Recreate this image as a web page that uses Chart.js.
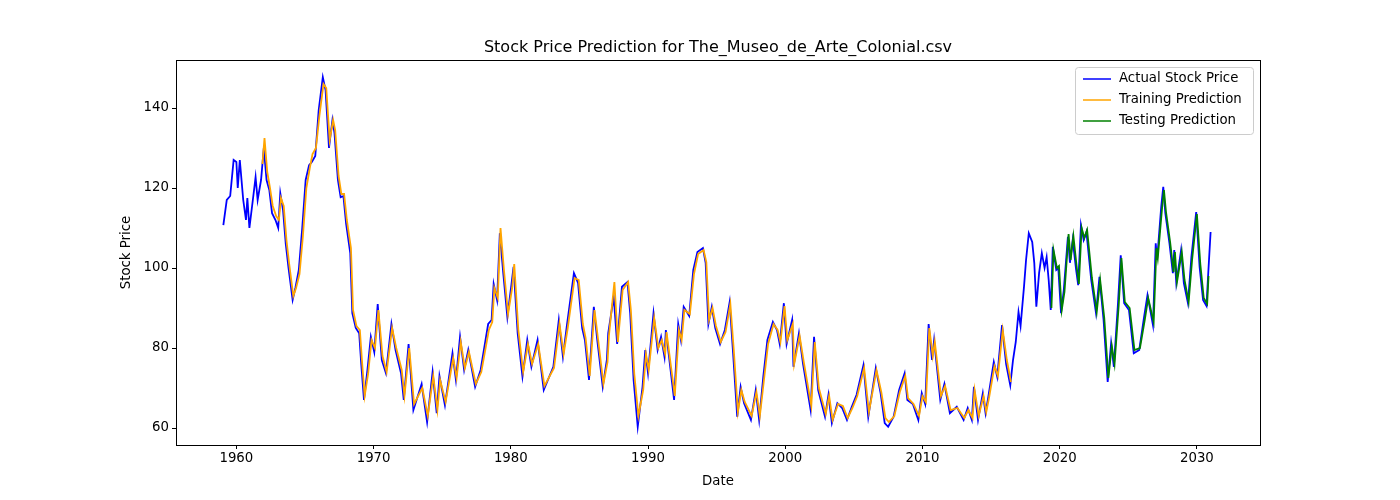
<!DOCTYPE html>
<html><head><meta charset="utf-8">
<script src="https://cdn.jsdelivr.net/npm/chart.js@4/dist/chart.umd.min.js"></script>
<style>html,body{margin:0;padding:0;background:#fff}#wrap{width:1400px;height:500px}</style>
</head><body><div id="wrap"><canvas id="c" width="1400" height="500"></canvas></div>
<script>
const actualYears=[1959.05,1959.3,1959.55,1959.8,1960.0,1960.1,1960.25,1960.5,1960.7,1960.8,1960.95,1961.2,1961.4,1961.55,1961.8,1962.0,1962.2,1962.4,1962.6,1962.85,1963.05,1963.2,1963.4,1963.6,1963.8,1964.1,1964.3,1964.55,1964.8,1965.05,1965.3,1965.5,1965.75,1966.0,1966.3,1966.5,1966.75,1967.0,1967.15,1967.4,1967.6,1967.8,1968.0,1968.3,1968.45,1968.7,1968.95,1969.1,1969.3,1969.55,1969.8,1970.05,1970.3,1970.6,1970.9,1971.3,1971.6,1972.0,1972.2,1972.55,1972.9,1973.5,1973.9,1974.3,1974.6,1974.8,1975.2,1975.75,1976.0,1976.3,1976.6,1976.9,1977.4,1977.8,1978.35,1978.6,1978.75,1979.0,1979.2,1979.45,1979.75,1980.05,1980.2,1980.5,1980.85,1981.2,1981.5,1981.95,1982.4,1983.1,1983.5,1983.8,1984.1,1984.6,1984.9,1985.2,1985.4,1985.7,1986.05,1986.3,1986.7,1987.0,1987.1,1987.5,1987.75,1988.1,1988.5,1988.7,1988.95,1989.25,1989.6,1989.8,1990.0,1990.4,1990.7,1990.95,1991.2,1991.3,1991.9,1992.2,1992.4,1992.6,1993.0,1993.3,1993.6,1994.0,1994.2,1994.4,1994.65,1994.9,1995.25,1995.6,1995.95,1996.2,1996.5,1996.75,1997.0,1997.5,1997.85,1998.1,1998.4,1998.7,1999.1,1999.4,1999.6,1999.9,2000.1,2000.5,2000.6,2001.0,2001.3,2001.85,2002.1,2002.4,2002.9,2003.15,2003.4,2003.8,2004.15,2004.5,2004.85,2005.2,2005.7,2006.05,2006.6,2006.95,2007.25,2007.5,2007.9,2008.3,2008.7,2008.9,2009.3,2009.7,2009.95,2010.2,2010.45,2010.7,2010.85,2011.3,2011.6,2012.0,2012.5,2013.0,2013.3,2013.6,2013.75,2014.05,2014.4,2014.6,2014.8,2015.2,2015.45,2015.8,2016.1,2016.4,2016.6,2016.8,2017.0,2017.15,2017.4,2017.55,2017.75,2018.0,2018.15,2018.3,2018.5,2018.7,2018.9,2019.05,2019.2,2019.35,2019.5,2019.75,2019.9,2020.1,2020.3,2020.6,2020.75,2020.95,2021.2,2021.35,2021.55,2021.75,2021.95,2022.3,2022.65,2022.9,2023.2,2023.5,2023.75,2023.95,2024.25,2024.45,2024.7,2025.05,2025.4,2025.8,2026.15,2026.4,2026.8,2027.0,2027.1,2027.4,2027.55,2027.7,2028.0,2028.25,2028.35,2028.5,2028.85,2029.05,2029.35,2029.6,2029.95,2030.2,2030.45,2030.7,2030.8,2031.0];
const actualValues=[110.7,117,118,127,126.5,120,127,117,112,117.5,110,117,122.7,117,122,130,122,119.5,113.7,112,110,118.7,114.5,106,100,92,95,99.5,110,122,125.7,126.5,128,139.5,147.7,144.5,130,137,133.7,122,117.7,118,111,103.7,88.7,85,83.7,76,67,74.5,82.8,79,91,77,73.7,86,79.5,73.7,67,81,64.5,71,61.5,74,63.7,73,65.7,78.7,72,82.8,74.5,79.5,70.3,74.5,86,87,96,92,108.7,98.7,87.7,96,100.3,83.7,72.8,82,75.3,82,69.5,75.3,87,77.8,86,98.7,96.3,85,82,72,90.3,82,70.3,77,83.7,92.8,81,95.3,96.5,88.7,72,60.3,70.3,79.5,73.7,88.7,79.5,82.8,77.8,84.5,67,86,82,90.3,88,99.5,104,105,101.3,86,90.3,85,81,84.5,91.5,78.7,62.8,70.3,66.2,62,69.5,62,72.8,82,86.5,84.5,81,91.2,81,87,75.3,83.7,76,64.5,82.8,69.5,62.8,68.3,61.2,66.2,65,62,65.3,68.3,75.7,62.8,75,68.7,61.2,60.3,62.8,69.5,73.7,67,66,62,68.7,66,86,77,82,67,71,63.7,65.3,62,65,62,70.3,62,68.7,63.7,67.8,76.5,72.8,85.7,76,70.7,77,81.5,89,85.5,95.3,102,108.7,106.5,101.3,90.3,98.7,103.7,100,102.7,97,89.5,105.3,99.5,100,88.7,94.5,107.8,101.3,107,99.5,95.7,110.7,107,109,97,88.7,97.8,87,71.5,81.2,75.3,91.2,103.2,91.2,89.5,78.7,79.5,87.7,93.2,85.7,106.2,102,115.3,120.3,113.7,106.2,98.7,104.5,96.2,104.5,96.2,91.2,102.7,114,100.2,92,90.5,97,109];
const trainYears=[1961.9,1962.05,1962.25,1962.45,1962.65,1962.9,1963.1,1963.25,1963.45,1963.65,1963.85,1964.15,1964.35,1964.6,1964.85,1965.1,1965.35,1965.55,1965.8,1966.05,1966.35,1966.55,1966.8,1967.05,1967.2,1967.45,1967.65,1967.85,1968.05,1968.35,1968.5,1968.75,1969.0,1969.15,1969.35,1969.6,1969.85,1970.1,1970.35,1970.65,1970.95,1971.35,1971.65,1972.05,1972.25,1972.6,1972.95,1973.55,1973.95,1974.35,1974.65,1974.85,1975.25,1975.8,1976.05,1976.35,1976.65,1976.95,1977.45,1977.85,1978.4,1978.65,1978.8,1979.05,1979.25,1979.5,1979.8,1980.1,1980.25,1980.55,1980.9,1981.25,1981.55,1982.0,1982.45,1983.15,1983.55,1983.85,1984.15,1984.65,1984.95,1985.25,1985.45,1985.75,1986.1,1986.35,1986.75,1987.05,1987.15,1987.55,1987.8,1988.15,1988.55,1988.75,1989.0,1989.3,1989.65,1989.85,1990.05,1990.45,1990.75,1991.0,1991.25,1991.35,1991.95,1992.25,1992.45,1992.65,1993.05,1993.35,1993.65,1994.05,1994.25,1994.45,1994.7,1994.95,1995.3,1995.65,1996.0,1996.25,1996.55,1996.8,1997.05,1997.55,1997.9,1998.15,1998.45,1998.75,1999.15,1999.45,1999.65,1999.95,2000.15,2000.55,2000.65,2001.05,2001.35,2001.9,2002.15,2002.45,2002.95,2003.2,2003.45,2003.85,2004.2,2004.55,2004.9,2005.25,2005.75,2006.1,2006.65,2007.0,2007.3,2007.55,2007.95,2008.35,2008.75,2008.95,2009.35,2009.75,2010.0,2010.25,2010.5,2010.75,2010.9,2011.35,2011.65,2012.05,2012.55,2013.05,2013.35,2013.65,2013.8,2014.1,2014.45,2014.65,2014.85,2015.25,2015.5,2015.85,2016.15,2016.45];
const trainValues=[126,132.5,124,120,115.5,113,112,117.5,115.5,107,101,93,95,98.5,108,120,125,128.5,130,138,146,145,132,137,134.5,123,118.5,118.5,112,105,89.5,85.5,84.5,77,68,73.5,82,80,89.5,78,74,85,80,74.5,68,80,66,70,63,73,64.5,72,66.5,77.5,72.5,81.5,75,79,71,74,84.5,86.5,95,92.5,110,99.5,88.5,95,101,84.5,74,81,76,81,70.5,75,86,78.5,85,97.5,97,86,82.5,73,89.5,82.5,71,76.5,83,96.5,81.5,94.5,96.5,89.5,73.5,63,69.5,78.5,74.5,87.5,80,82,78.5,84,68,84.5,82,89.5,88.5,98.5,103.5,104.5,101.5,87,90,85.5,81.5,84,91,79.5,64,69.5,66.5,63,69,63,72,81,86,84.5,81.5,90.5,82,86,76,83,76.5,65.5,81.5,70,63.5,68,62,66,65.5,62.5,65,68,75,64,74.5,69,62.5,61.5,63,69,73,67.5,66,63,68,66.5,85,78,81.5,68,70.5,64.5,65,62.5,64.5,62.5,69.5,63,68,64,67.5,75.5,73,84.5,77,71.5];
const testYears=[2019.4,2019.55,2019.8,2019.95,2020.15,2020.35,2020.65,2020.8,2021.0,2021.25,2021.4,2021.6,2021.8,2022.0,2022.35,2022.7,2022.95,2023.25,2023.55,2023.8,2024.0,2024.3,2024.5,2024.75,2025.1,2025.45,2025.85,2026.2,2026.45,2026.85,2027.05,2027.15,2027.45,2027.6,2027.75,2028.05,2028.3,2028.4,2028.55,2028.9,2029.1,2029.4,2029.65,2030.0,2030.25,2030.5,2030.75,2030.85];
const testValues=[90,104.5,100,100.5,89.5,94,108.5,102,108,100,96,110,107.5,109.5,97.5,89,97,87.5,72.5,80.5,76,90.5,102.5,91.5,90,79.5,80,87,92.5,86.5,105,102.5,114.5,119.5,114,106.5,99,104,96.5,104,97,91.5,102,113.5,101,92.5,91,98];
const xTicks=[1960,1970,1980,1990,2000,2010,2020,2030];
const yTicks=[60,80,100,120,140];
const legendItems=[['Actual Stock Price','blue'],['Training Prediction','orange'],['Testing Prediction','green']];
const toPts=(xs,ys)=>xs.map((x,i)=>({x,y:ys[i]}));
const F='"DejaVu Sans", sans-serif';
const deco={id:'deco',afterDraw(ch){const c=ch.ctx,a=ch.chartArea;c.save();
c.strokeStyle='#000';c.lineWidth=1;c.strokeRect(Math.round(a.left)+0.5,Math.round(a.top)+0.5,Math.round(a.right-a.left),Math.round(a.bottom-a.top));
c.fillStyle='#000';c.textAlign='center';c.textBaseline='alphabetic';
c.font='16px '+F;c.fillText('Stock Price Prediction for The_Museo_de_Arte_Colonial.csv',(a.left+a.right)/2,a.top-8);
c.font='13.3px '+F;c.fillText('Date',(a.left+a.right)/2,485);
c.save();c.translate(130,(a.top+a.bottom)/2);c.rotate(-Math.PI/2);c.fillText('Stock Price',0,0);c.restore();
const lx=1075,ly=67,lw=178,lh=67;c.fillStyle='rgba(255,255,255,0.8)';c.strokeStyle='#ccc';c.beginPath();c.roundRect(lx+0.5,ly+0.5,lw,lh,3);c.fill();c.stroke();
c.textAlign='left';c.textBaseline='middle';c.font='13.3px '+F;
legendItems.forEach(([t,col],i)=>{const y=ly+12+i*21;c.strokeStyle=col;c.lineWidth=1.5;c.beginPath();c.moveTo(lx+8,y);c.lineTo(lx+36,y);c.stroke();c.fillStyle='#000';c.fillText(t,lx+44,y);});
c.restore();}};
const ds=(label,data,color,order)=>({label,data,borderColor:color,borderWidth:1.8,pointRadius:0,tension:0,fill:false,order});
new Chart(document.getElementById('c'),{type:'line',
data:{datasets:[ds('Actual Stock Price',toPts(actualYears,actualValues),'blue',3),ds('Training Prediction',toPts(trainYears,trainValues),'orange',2),ds('Testing Prediction',toPts(testYears,testValues),'green',1)]},
options:{responsive:false,animation:false,layout:{padding:{top:60,right:140,left:0,bottom:0}},
plugins:{legend:{display:false},tooltip:{enabled:false}},
scales:{x:{type:'linear',min:1955.6,max:2034.6,afterFit:s=>{s.height=55},afterBuildTicks:s=>{s.ticks=xTicks.map(v=>({value:v}))},
grid:{drawOnChartArea:false,drawTicks:true,tickLength:4,color:'#000'},border:{display:false},ticks:{color:'#000',font:{family:F,size:13.3},maxRotation:0,padding:2,callback:v=>String(v)}},
y:{min:55.75,max:152,afterFit:s=>{s.width=176},afterBuildTicks:s=>{s.ticks=yTicks.map(v=>({value:v}))},
grid:{drawOnChartArea:false,drawTicks:true,tickLength:4,color:'#000'},border:{display:false},ticks:{color:'#000',font:{family:F,size:13.3},padding:3}}}},
plugins:[deco]});
</script></body></html>
